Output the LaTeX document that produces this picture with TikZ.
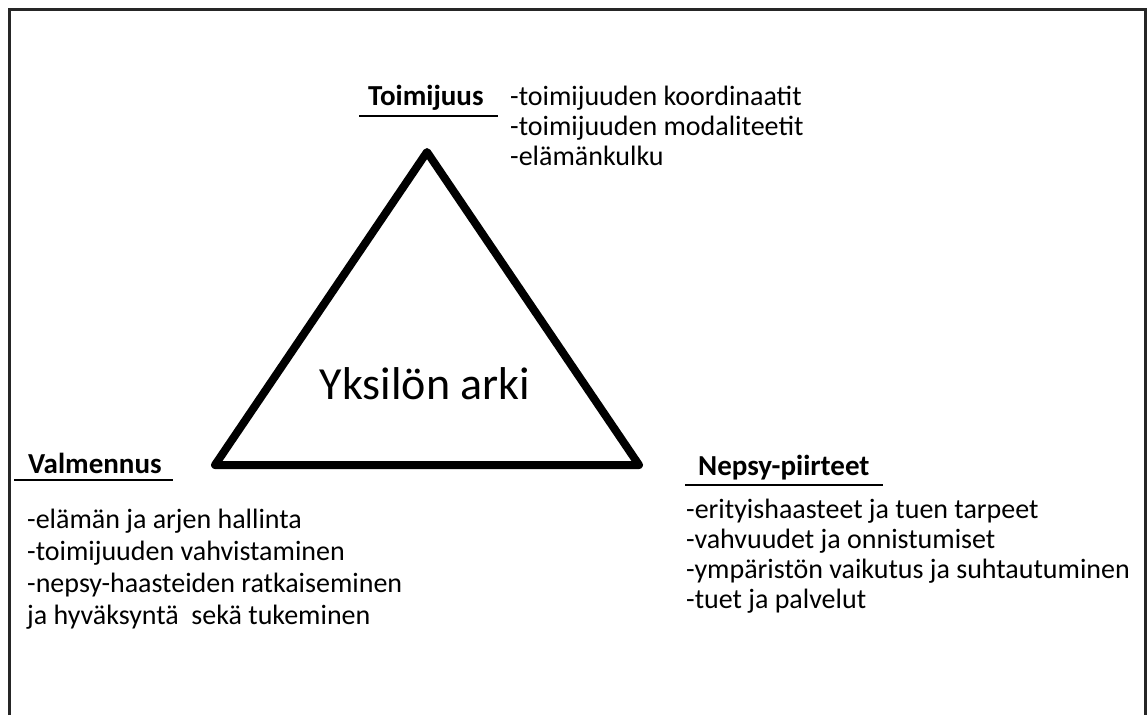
\documentclass[tikz,border=0pt]{standalone}
\usepackage{fontspec}
\setmainfont{Carlito}

\begin{document}
\begin{tikzpicture}[x=1pt, y=-1pt,
        head/.style={font=\fontsize{29}{33}\selectfont\bfseries, anchor=base west, inner sep=0pt},
        item/.style={font=\fontsize{28}{32}\selectfont, anchor=base west, inner sep=0pt}]
        \useasboundingbox (0,0) rectangle (1147,715);
        % Open frame, cut off at the bottom
        \draw[line width=3pt, black!85] (9,715) -- (9,9) -- (1145,9) -- (1145,715);

        % Triangle
        \coordinate (top) at (427,152);
        \coordinate (left) at (215,465);
        \coordinate (right) at (639,465);
        \draw[line width=8pt, line join=round] (top) -- (left) -- (right) -- cycle;
        \node[font=\fontsize{46}{50}\selectfont, inner sep=0pt] (arki) at (425,384) {Yksilön arki};

        % Toimijuus
        \node[head] (toimi) at (368,105) {Toimijuus};
        \draw[line width=1.5pt] (359,116) -- (498,116);
        \foreach \t [count=\i] in {-toimijuuden koordinaatit, -toimijuuden modaliteetit, -elämänkulku}
            \node[item] (toimi\i) at (510, {105+30*(\i-1)}) {\t};

        % Valmennus
        \node[head] (valm) at (28,473) {Valmennus};
        \draw[line width=1.5pt] (14,480) -- (173,480);
        \foreach \t [count=\i] in {-elämän ja arjen hallinta, -toimijuuden vahvistaminen, -nepsy-haasteiden ratkaiseminen, ja hyväksyntä\ \ sekä tukeminen}
            \node[item] (valm\i) at (27, {528+32*(\i-1)}) {\t};

        % Nepsy-piirteet
        \node[head] (nepsy) at (698,475) {Nepsy-piirteet};
        \draw[line width=1.5pt] (685,485) -- (883,485);
        \foreach \t [count=\i] in {-erityishaasteet ja tuen tarpeet, -vahvuudet ja onnistumiset, -ympäristön vaikutus ja suhtautuminen, -tuet ja palvelut}
            \node[item] (nepsy\i) at (686, {518+30*(\i-1)}) {\t};
\end{tikzpicture}
\end{document}
